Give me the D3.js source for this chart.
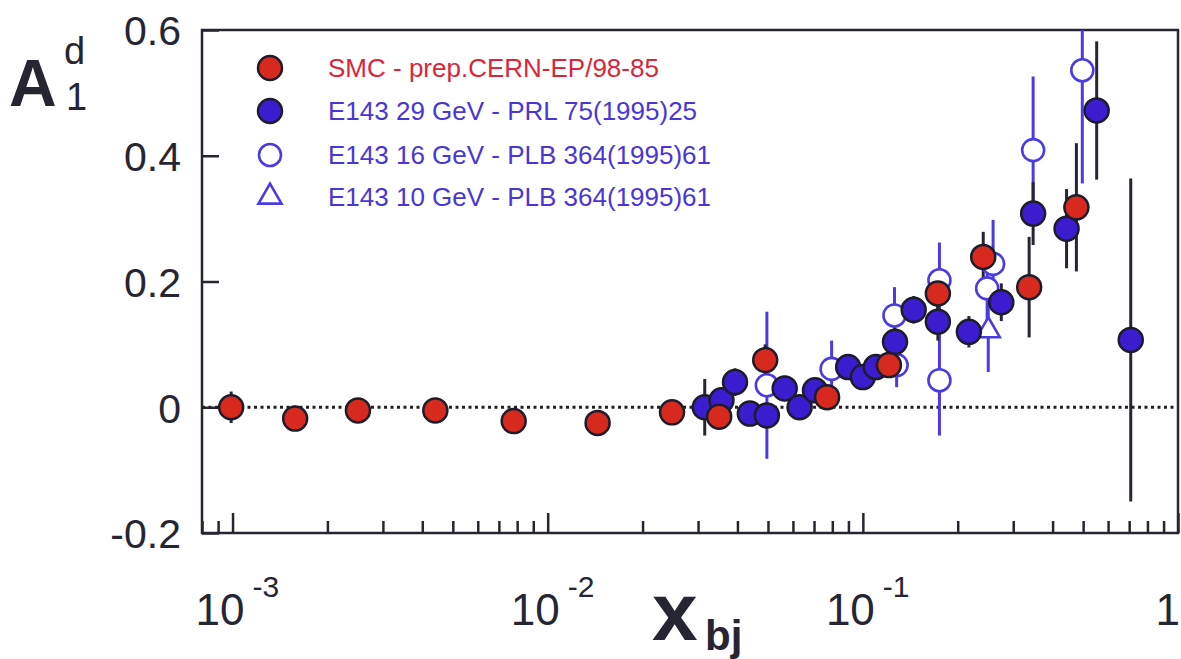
<!DOCTYPE html>
<html><head><meta charset="utf-8">
<script src="https://cdn.jsdelivr.net/npm/d3@7"></script>
<style>
body{margin:0;background:#fff}
svg{display:block}
text{font-family:"Liberation Sans",Arial,Helvetica,sans-serif}
</style>
</head><body>
<svg id="c" width="1181" height="659"></svg>
<script>
// ---- data ----
const smcX = [0.00099,0.00158,0.0025,0.0044,0.0078,0.0144,0.0248,0.035,0.049,0.077,0.121,0.173,0.241,0.337,0.476];
const smcY = [0.000,-0.018,-0.005,-0.005,-0.022,-0.025,-0.008,-0.015,0.075,0.016,0.067,0.181,0.239,0.191,0.318];
const smcE = [0.025,0.012,0.012,0.012,0.012,0.012,0.014,0.02,0.025,0.02,0.02,0.037,0.04,0.08,0.102];

const e29X = [0.0315,0.0356,0.0393,0.0438,0.0496,0.0565,0.063,0.0705,0.0898,0.100,0.110,0.1265,0.145,0.173,0.217,0.275,0.347,0.443,0.552,0.708];
const e29Y = [0.000,0.011,0.040,-0.010,-0.013,0.030,0.000,0.027,0.064,0.048,0.064,0.104,0.155,0.136,0.120,0.167,0.308,0.284,0.472,0.107];
const e29E = [0.045,0.02,0.022,0.02,0.02,0.02,0.02,0.02,0.02,0.02,0.02,0.022,0.022,0.03,0.025,0.03,0.05,0.063,0.11,0.257];

const e16X = [0.0496,0.0796,0.126,0.128,0.175,0.175,0.248,0.259,0.347,0.497];
const e16Y = [0.035,0.061,0.146,0.067,0.202,0.043,0.189,0.228,0.409,0.536];
const e16E = [0.117,0.045,0.045,0.035,0.06,0.088,0.05,0.07,0.117,0.18];

const e10X = [0.250];
const e10Y = [0.122];
const e10E = [0.066];

const legendLabels = ["SMC - prep.CERN-EP/98-85","E143 29 GeV - PRL 75(1995)25","E143 16 GeV - PLB 364(1995)61","E143 10 GeV - PLB 364(1995)61"];
const yTicks = [-0.2,0,0.2,0.4,0.6];
const xMajor = [0.001,0.01,0.1,1];
const xMajorExp = ["-3","-2","-1",""];

// ---- setup ----
const svg = d3.select("#c");
const x = d3.scaleLog().domain([0.0008,1]).range([202,1178]);
const y = d3.scaleLinear().domain([-0.2,0.6]).range([533,30]);
const ink = "#262633";
const red = "#d8291f", blue = "#3b1dcf", lblue = "#4a3ce2";

svg.append("defs").append("clipPath").attr("id","pc")
  .append("rect").attr("x",202).attr("y",30).attr("width",976).attr("height",503);

// minor x ticks
const xMinor = [];
[0.0001,0.001,0.01,0.1].forEach(d=>{for(let k=2;k<=9;k++){const v=d*k; if(v>=0.0008&&v<1) xMinor.push(v);}});

const gx1 = svg.append("g").attr("transform","translate(0,533)")
  .call(d3.axisBottom(x).tickValues(xMajor).tickSize(-20).tickSizeOuter(0).tickFormat(""));
const gx2 = svg.append("g").attr("transform","translate(0,533)")
  .call(d3.axisBottom(x).tickValues(xMinor).tickSize(-12).tickSizeOuter(0).tickFormat(""));
const gy = svg.append("g").attr("transform","translate(202,0)")
  .call(d3.axisLeft(y).tickValues(yTicks).tickSize(-17).tickSizeOuter(0).tickPadding(21)
    .tickFormat(d=> d===0 ? "0" : d3.format(".1f")(d).replace("\u2212","-")));
[gx1,gx2,gy].forEach(g=>{
  g.selectAll("path.domain").remove();
  g.selectAll("line").attr("stroke",ink).attr("stroke-width",2.5);
});
gy.selectAll("text").attr("font-size",41).attr("fill",ink).attr("dy","0.36em");

// x tick labels with exponents
xMajor.forEach((v,i)=>{
  const px = x(v);
  if(xMajorExp[i]){
    svg.append("text").attr("x",px+12).attr("y",625).attr("text-anchor","end")
      .attr("font-size",44).attr("fill",ink).text("10");
    svg.append("text").attr("x",px+20).attr("y",597).attr("text-anchor","start")
      .attr("font-size",30).attr("fill",ink).text(xMajorExp[i]);
  } else {
    svg.append("text").attr("x",1180).attr("y",625).attr("text-anchor","end")
      .attr("font-size",44).attr("fill",ink).text("1");
  }
});

// frame
svg.append("rect").attr("x",202).attr("y",30).attr("width",976).attr("height",503)
  .attr("fill","none").attr("stroke",ink).attr("stroke-width",2.5);

// zero line
svg.append("line").attr("x1",202).attr("x2",1178).attr("y1",y(0)).attr("y2",y(0))
  .attr("stroke","#222").attr("stroke-width",3).attr("stroke-dasharray","3,3.5");

// axis titles
svg.append("text").attr("x",9).attr("y",106).attr("font-size",66).attr("font-weight","bold").attr("fill",ink).text("A");
svg.append("text").attr("x",64).attr("y",64).attr("font-size",38).attr("fill",ink).text("d");
svg.append("text").attr("x",66).attr("y",110).attr("font-size",38).attr("fill",ink).text("1");
svg.append("text").attr("x",652).attr("y",640).attr("font-size",82).attr("font-weight","bold").attr("fill",ink).text("x");
svg.append("text").attr("x",705).attr("y",650).attr("font-size",42).attr("font-weight","bold").attr("fill",ink).text("bj");

// data
const P = svg.append("g").attr("clip-path","url(#pc)");
function series(X,Y,E){ return X.map((v,i)=>({x:v,y:Y[i],e:E[i]})); }
const smc = series(smcX,smcY,smcE), e29 = series(e29X,e29Y,e29E),
      e16 = series(e16X,e16Y,e16E), e10 = series(e10X,e10Y,e10E);

function bars(data,color){
  P.append("g").selectAll("line").data(data).join("line")
    .attr("x1",d=>x(d.x)).attr("x2",d=>x(d.x))
    .attr("y1",d=>y(d.y+d.e)).attr("y2",d=>y(d.y-d.e))
    .attr("stroke",color).attr("stroke-width",3);
}
bars(e16,lblue); bars(e10,lblue); bars(e29,ink); bars(smc,ink);

P.append("g").selectAll("circle").data(e16).join("circle")
  .attr("cx",d=>x(d.x)).attr("cy",d=>y(d.y)).attr("r",11)
  .attr("fill","#fff").attr("stroke",lblue).attr("stroke-width",2.6);
P.append("g").selectAll("path").data(e10).join("path")
  .attr("transform",d=>`translate(${x(d.x)},${y(d.y)})`)
  .attr("d",d3.symbol().type(d3.symbolTriangle).size(230)())
  .attr("fill","#fff").attr("stroke",lblue).attr("stroke-width",2.6);
P.append("g").selectAll("circle").data(e29).join("circle")
  .attr("cx",d=>x(d.x)).attr("cy",d=>y(d.y)).attr("r",12)
  .attr("fill",blue).attr("stroke","#1c1c2a").attr("stroke-width",2.5);
P.append("g").selectAll("circle").data(smc).join("circle")
  .attr("cx",d=>x(d.x)).attr("cy",d=>y(d.y)).attr("r",12)
  .attr("fill",red).attr("stroke","#1c1c2a").attr("stroke-width",2.5);

// legend
const L = svg.append("g");
const rows = [68,111,155,197];
L.append("circle").attr("cx",270).attr("cy",rows[0]).attr("r",12).attr("fill",red).attr("stroke","#1c1c2a").attr("stroke-width",2.5);
L.append("circle").attr("cx",270).attr("cy",rows[1]).attr("r",12).attr("fill",blue).attr("stroke","#1c1c2a").attr("stroke-width",2.5);
L.append("circle").attr("cx",270).attr("cy",rows[2]).attr("r",11).attr("fill","#fff").attr("stroke",lblue).attr("stroke-width",2.6);
L.append("path").attr("transform",`translate(270,${rows[3]})`).attr("d",d3.symbol().type(d3.symbolTriangle).size(230)())
  .attr("fill","#fff").attr("stroke",lblue).attr("stroke-width",2.6);
legendLabels.forEach((t,i)=>{
  L.append("text").attr("x",328).attr("y",rows[i]+9).attr("font-size",26)
    .attr("fill", i===0 ? "#d9263a" : "#4a36d6").text(t);
});
</script>
</body></html>
